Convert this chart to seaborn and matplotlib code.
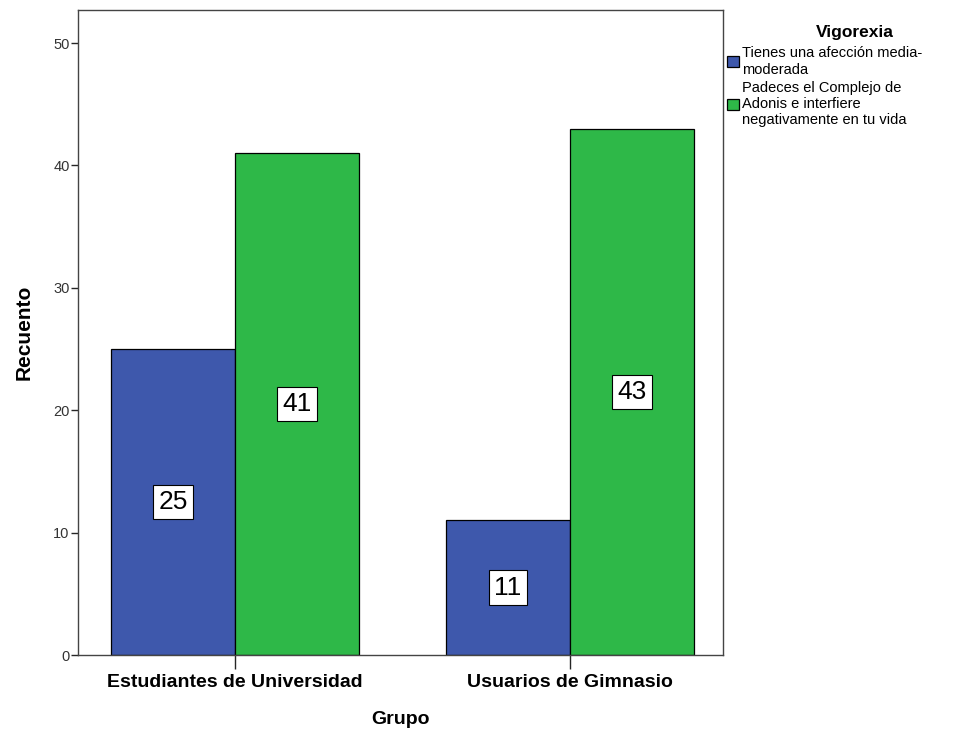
import matplotlib
matplotlib.use("Agg")
import matplotlib.pyplot as plt
import seaborn as sns
import pandas as pd

# datos del gráfico
grupos = ["Estudiantes de Universidad", "Usuarios de Gimnasio"]
niveles = ["Tienes una afección media-\nmoderada",
           "Padeces el Complejo de\nAdonis e interfiere\nnegativamente en tu vida"]
recuento_media = [25, 11]
recuento_adonis = [41, 43]
colores = ["#3E58AC", "#2EB848"]

df = pd.DataFrame({
    "Grupo": grupos * 2,
    "Vigorexia": [niveles[0]] * 2 + [niveles[1]] * 2,
    "Recuento": recuento_media + recuento_adonis,
})

sns.set_style("white")
plt.rcParams['font.family'] = ['Liberation Sans', 'DejaVu Sans']
plt.rcParams['text.color'] = 'black'
plt.rcParams['axes.labelcolor'] = 'black'
narrow = ['Liberation Sans Narrow', 'DejaVu Sans Condensed', 'Liberation Sans']

fig = plt.figure(figsize=(9.56, 7.29), dpi=100)
ax = fig.add_axes([0.0816, 0.1015, 0.6746, 0.8848])

sns.barplot(data=df, x="Grupo", y="Recuento", hue="Vigorexia",
            palette=colores, width=0.74, gap=0, edgecolor="black",
            linewidth=0.9, saturation=1, ax=ax)

for cont in ax.containers:
    ax.bar_label(cont, label_type="center", fontsize=19, color="black",
                 bbox=dict(boxstyle="square,pad=0.2", fc="white", ec="black", lw=0.8))

ax.set_ylim(0, 52.7)
ax.set_xlim(-0.469, 1.457)
ax.set_yticks([0, 10, 20, 30, 40, 50])
ax.tick_params(axis="y", direction="out", length=5, width=1, labelsize=10.5,
               labelcolor="#333333", left=True, pad=1)
ax.tick_params(axis="x", direction="out", length=10, width=1, bottom=True, pad=4,
               labelcolor="black")
for lab in ax.get_xticklabels():
    lab.set_family(narrow)
    lab.set_fontweight("bold")
    lab.set_fontsize(14)
for s in ax.spines.values():
    s.set_color("#444444")
    s.set_linewidth(1)

ax.set_xlabel("Grupo", fontsize=14, fontweight="bold", labelpad=14, family=narrow)
ax.set_ylabel("Recuento", fontsize=15, fontweight="bold", labelpad=14, family=narrow)

handles, labels = ax.get_legend_handles_labels()
ax.legend(handles, labels, loc="upper left",
          bbox_to_anchor=(0.995, 0.955), frameon=False, fontsize=10.5,
          handlelength=0.8, handleheight=0.8, handletextpad=0.2,
          labelspacing=0.3, borderaxespad=0.3, borderpad=0.2)
fig.text(0.894, 0.955, "Vigorexia", ha="center", va="center",
         fontsize=12.5, fontweight="bold")

fig.savefig("out.png", dpi=100)
